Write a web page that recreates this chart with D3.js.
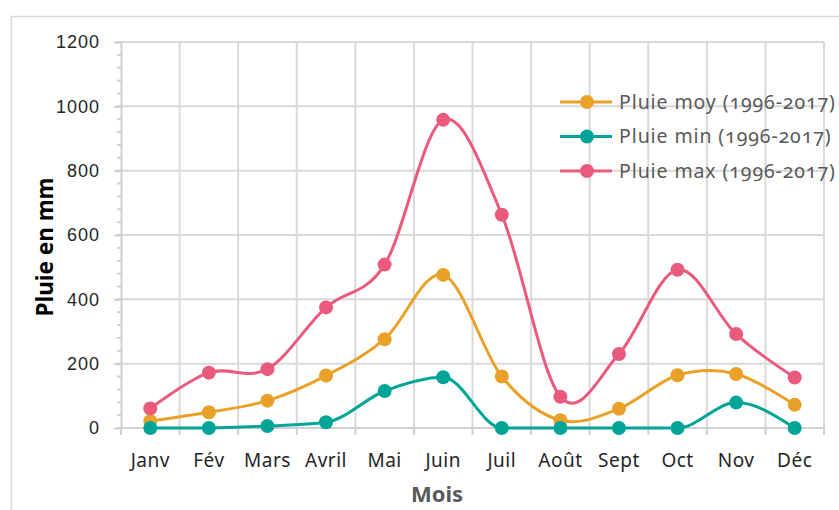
<!DOCTYPE html>
<html>
  <head>
    <meta charset="utf-8">
    <title>Pluie mensuelle</title>
    <script src="https://d3js.org/d3.v7.min.js"></script>
    <style>
      body { margin: 0; background: #fff; }
      svg { display: block; font-family: "Noto Sans", "Open Sans", sans-serif; }
      .tick text { font-size: 18px; fill: #262626; letter-spacing: 1px; font-feature-settings: "onum"; }
      .grid line { stroke: #d9d9d9; stroke-width: 2; }
      .axis path, .axis line { stroke: #d0d0d0; stroke-width: 2; }
      .legend text { font-size: 19.5px; fill: #595959; letter-spacing: 0.9px; font-feature-settings: "onum"; }
    </style>
  </head>
  <body>
    <svg id="chart" width="839" height="510"></svg>
    <script>
      // data
      const months = ["Janv", "Fév", "Mars", "Avril", "Mai", "Juin", "Juil", "Août", "Sept", "Oct", "Nov", "Déc"];
      const pluieMoy = [22, 49, 85, 163, 276, 476, 160, 24, 60, 164, 168, 72];
      const pluieMin = [0, 0, 6, 18, 115, 158, 0, 0, 0, 0, 79, 0];
      const pluieMax = [61, 172, 183, 375, 508, 958, 663, 97, 230, 492, 292, 157];
      const yTicks = [0, 200, 400, 600, 800, 1000, 1200];
      const seriesNames = ["Pluie moy (1996-2017)", "Pluie min (1996-2017)", "Pluie max (1996-2017)"];
      const seriesColors = ["#e9a227", "#00a597", "#ea5a7d"];

      const series = [pluieMoy, pluieMin, pluieMax].map(function(values, i) {
        return { name: seriesNames[i], color: seriesColors[i], values: values };
      });

      const margin = { top: 42, right: 15, bottom: 82, left: 121 };
      const width = 839, height = 510;
      const chart = d3.select("#chart");

      // outer frame
      chart.append("rect")
        .attr("x", 11.5).attr("y", 16.5)
        .attr("width", 840).attr("height", 520)
        .attr("fill", "none").attr("stroke", "#d9d9d9").attr("stroke-width", 1.5);

      const x = d3.scaleBand()
        .domain(months)
        .range([margin.left, width - margin.right]);
      const y = d3.scaleLinear()
        .domain([0, 1200])
        .range([height - margin.bottom, margin.top]);
      const y0 = y(0);

      // vertical grid at category boundaries
      const bounds = months.map(function(m) { return x(m); }).concat([x.range()[1]]);
      chart.append("g").attr("class", "grid")
        .selectAll("line").data(bounds.slice(1)).enter().append("line")
          .attr("x1", function(d) { return d; }).attr("x2", function(d) { return d; })
          .attr("y1", margin.top).attr("y2", y0);
      // horizontal grid
      chart.append("g").attr("class", "grid")
        .selectAll("line").data(yTicks.slice(1)).enter().append("line")
          .attr("x1", margin.left).attr("x2", x.range()[1])
          .attr("y1", function(d) { return y(d); }).attr("y2", function(d) { return y(d); });

      // minor ticks every 40
      chart.append("g").attr("class", "axis")
        .selectAll("line").data(d3.range(0, 1201, 40)).enter().append("line")
          .attr("x1", margin.left - 4).attr("x2", margin.left)
          .attr("y1", function(d) { return y(d); }).attr("y2", function(d) { return y(d); });

      const yAxis = d3.axisLeft(y)
        .tickValues(yTicks)
        .tickFormat(d3.format("d"))
        .tickSize(7)
        .tickSizeOuter(0)
        .tickPadding(14);
      chart.append("g").attr("class", "axis")
        .attr("transform", "translate(" + margin.left + ",0)")
        .call(yAxis);

      // x axis with ticks at boundaries
      chart.append("g").attr("class", "axis")
        .selectAll("line").data(bounds).enter().append("line")
          .attr("x1", function(d) { return d; }).attr("x2", function(d) { return d; })
          .attr("y1", y0).attr("y2", y0 + 7);
      chart.append("g").attr("class", "axis").append("line")
        .attr("x1", margin.left).attr("x2", x.range()[1])
        .attr("y1", y0).attr("y2", y0);
      chart.append("g")
        .selectAll("text").data(months).enter().append("text")
          .attr("x", function(d) { return x(d) + x.bandwidth() / 2; })
          .attr("y", y0 + 39)
          .attr("text-anchor", "middle")
          .attr("font-size", 19)
          .attr("letter-spacing", "0.5px")
          .attr("fill", "#262626")
          .text(function(d) { return d; });

      // axis titles
      chart.append("text")
        .attr("transform", "translate(53,247) rotate(-90)")
        .attr("text-anchor", "middle")
        .attr("font-size", 22.5).attr("font-weight", "bold").attr("fill", "#000")
        .text("Pluie en mm");
      chart.append("text")
        .attr("x", 437)
        .attr("y", 502)
        .attr("text-anchor", "middle")
        .attr("font-size", 22).attr("font-weight", "bold").attr("fill", "#595959")
        .text("Mois");

      // lines and markers
      const line = d3.line()
        .x(function(d, i) { return x(months[i]) + x.bandwidth() / 2; })
        .y(function(d) { return y(d); });

      series.forEach(function(s, i) {
        const g = chart.append("g");
        // the min series hugs zero without dipping below it
        line.curve(i === 1 ? d3.curveMonotoneX : d3.curveCardinal.tension(0));
        g.append("path")
          .attr("d", line(s.values))
          .attr("fill", "none")
          .attr("stroke", s.color)
          .attr("stroke-width", 3);
        g.selectAll("circle").data(s.values).enter().append("circle")
          .attr("cx", function(d, j) { return x(months[j]) + x.bandwidth() / 2; })
          .attr("cy", function(d) { return y(d); })
          .attr("r", 7)
          .attr("fill", s.color);
      });

      // legend
      const legend = chart.append("g").attr("class", "legend")
        .attr("transform", "translate(560,102)");
      series.forEach(function(s, i) {
        const row = legend.append("g").attr("transform", "translate(0," + (i * 34.5) + ")");
        row.append("line")
          .attr("x1", 0).attr("x2", 52)
          .attr("stroke", s.color).attr("stroke-width", 3);
        row.append("circle").attr("cx", 27).attr("r", 7).attr("fill", s.color);
        row.append("text")
          .attr("x", 59).attr("y", 6.5)
          .text(s.name);
      });
    </script>
  </body>
</html>
